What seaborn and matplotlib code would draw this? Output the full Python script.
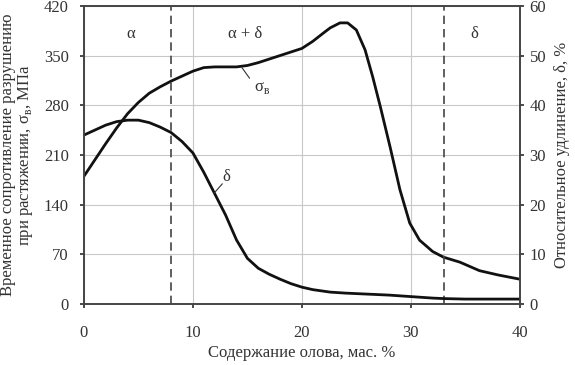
import numpy as np
import pandas as pd
import seaborn as sns
import matplotlib.pyplot as plt

# tensile strength, MPa (left axis)
sig_x = [0, 1, 2, 3, 4, 5, 6, 7, 8, 9, 10, 11, 12, 13, 14, 15, 16, 17, 18, 19, 20,
         21, 22, 22.6, 23.5, 24.2, 25, 25.8, 26.5, 27.2, 28.1, 29, 29.9, 30.8, 32, 33, 34.5,
         36.3, 38, 40]
sig_y = [180, 203, 226, 248, 268, 284, 297, 306, 314, 321, 328, 333, 334, 334, 334, 336, 340,
         345, 350, 355, 360, 370, 382, 389, 396, 396, 386, 358, 320, 278, 221, 161, 114, 90, 74,
         66, 59, 47, 41, 35]

# elongation, % (right axis)
del_x = [0, 1, 2, 3, 4, 5, 6, 7, 8, 9, 10, 11, 12, 13, 14, 15, 16, 17, 18, 19, 20,
         21, 22.6, 24, 26, 28, 30, 32, 33, 35, 40]
del_y = [34, 35, 36, 36.7, 37, 37, 36.5, 35.6, 34.5, 32.7, 30.4, 26.5, 22.2, 17.9, 12.9, 9.2,
         7.2, 6, 5, 4.1, 3.4, 2.9, 2.4, 2.2, 2.0, 1.8, 1.5, 1.2, 1.1, 1.0, 1.0]

phase_lines = [8, 33]
phase_labels = ["α", "α + δ", "δ"]
phase_pos = [4.3, 14.8, 35.8]

sns.set_theme(style="ticks")
plt.rcParams['font.family'] = ['Liberation Serif', 'DejaVu Serif']
plt.rcParams['font.size'] = 11
txt = '#333333'

fig = plt.figure(figsize=(5.75, 3.65), dpi=100)
ax = fig.add_axes([0.146, 0.167, 0.758, 0.817])
ax2 = ax.twinx()

sig = pd.DataFrame({"x": sig_x, "y": sig_y})
dl = pd.DataFrame({"x": del_x, "y": del_y})
sns.lineplot(data=sig, x="x", y="y", ax=ax, color='#111111', lw=2)
sns.lineplot(data=dl, x="x", y="y", ax=ax2, color='#111111', lw=2)

ax.set_xlim(0, 40)
ax.set_ylim(0, 420)
ax2.set_ylim(0, 60)
ax.set_xticks([0, 10, 20, 30, 40])
ax.set_yticks(np.arange(0, 421, 70))
ax2.set_yticks(np.arange(0, 61, 10))
ax.grid(True, color='#c8c8c8', lw=0.8)
ax.set_axisbelow(True)

for v in phase_lines:
    ax.axvline(v, color='#444444', lw=1.2, ls=(0, (5, 3)))
for p, s in zip(phase_pos, phase_labels):
    ax.text(p, 380, s, ha='center', va='center', fontsize=12, color=txt)

# curve labels with leader lines
ax.plot([14.5, 15.2], [333, 318], color='#333333', lw=0.8)
ax.text(15.6, 304, "σ$_\\mathregular{в}$", fontsize=12, color=txt, va='center')
ax2.plot([11.9, 12.7], [22.2, 24.2], color='#333333', lw=0.8)
ax2.text(12.7, 25.6, "δ", fontsize=12, color=txt, va='center')

ax.set_xlabel("Содержание олова, мас. %", color=txt, fontsize=12, labelpad=3)
ax.set_ylabel("Временное сопротивление разрушению\nпри растяжении, σ$_\\mathregular{в}$, МПа",
              color=txt, fontsize=12, labelpad=6, linespacing=1.0)
ax2.set_ylabel("Относительное удлинение, δ, %", color=txt, fontsize=12, labelpad=6)

ax.tick_params(axis='x', length=3, pad=12, colors=txt, labelsize=12)
ax.tick_params(axis='y', length=3, pad=8, colors=txt, labelsize=12)
ax2.tick_params(axis='y', length=3, pad=4, colors=txt, labelsize=12)
for a in (ax, ax2):
    for sp in a.spines.values():
        sp.set_color('#444444')
        sp.set_linewidth(1.2)
        sp.set_visible(True)

fig.savefig("out.png", dpi=100)
